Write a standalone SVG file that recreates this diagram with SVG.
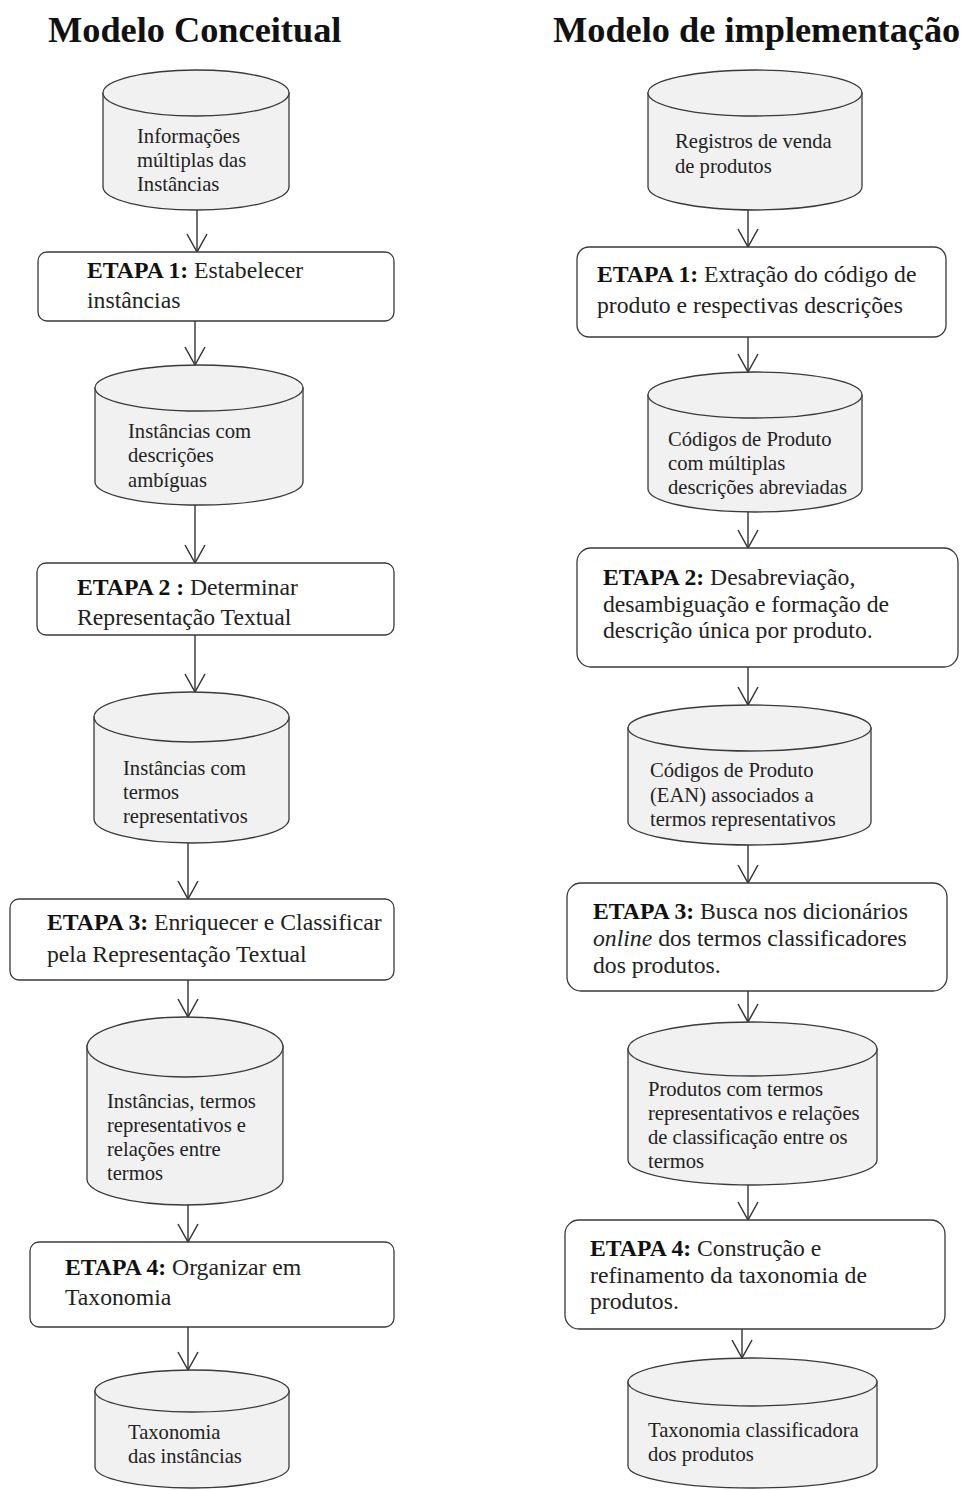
<svg xmlns="http://www.w3.org/2000/svg" width="964" height="1490" viewBox="0 0 964 1490">
  <style>
    .title { font-family: "Liberation Serif", "Times New Roman", serif; font-size: 36.3px; font-weight: bold; fill: #111; }
    .cyl { fill: #f1f1f1; stroke: #3a3a3a; stroke-width: 1.3; }
    .box { fill: #ffffff; stroke: #3a3a3a; stroke-width: 1.3; }
    .ct { font-family: "Liberation Serif", "Times New Roman", serif; font-size: 20.6px; fill: #222; }
    .bt { font-family: "Liberation Serif", "Times New Roman", serif; font-size: 23.7px; fill: #222; }
    .b { font-weight: bold; fill: #111; }
    .edge { stroke: #333; stroke-width: 1.4; fill: none; marker-end: url(#vhead); }
  </style>
  <defs>
    <marker id="vhead" markerUnits="userSpaceOnUse" viewBox="-20 -12 22 24" refX="0" refY="0" markerWidth="22" markerHeight="24" orient="auto">
      <path d="M-18,-10 L0,0 L-18,10" fill="none" stroke="#333" stroke-width="1.5"/>
    </marker>
  </defs>

  <rect width="964" height="1490" fill="#ffffff"/>

  <text class="title" x="48" y="42">Modelo Conceitual</text>
  <text class="title" x="553" y="42">Modelo de implementação</text>

  <!-- connectors -->
  <g id="connectors">
    <line class="edge" x1="197" y1="210" x2="197" y2="252"/>
    <line class="edge" x1="195" y1="321" x2="195" y2="365"/>
    <line class="edge" x1="195" y1="505" x2="195" y2="563"/>
    <line class="edge" x1="195" y1="635" x2="195" y2="692"/>
    <line class="edge" x1="188" y1="843" x2="188" y2="899"/>
    <line class="edge" x1="188" y1="980" x2="188" y2="1017"/>
    <line class="edge" x1="188" y1="1205" x2="188" y2="1242"/>
    <line class="edge" x1="188" y1="1327" x2="188" y2="1370"/>

    <line class="edge" x1="748" y1="210" x2="748" y2="247"/>
    <line class="edge" x1="748" y1="337" x2="748" y2="372"/>
    <line class="edge" x1="748" y1="512" x2="748" y2="548"/>
    <line class="edge" x1="748" y1="667" x2="748" y2="705"/>
    <line class="edge" x1="748" y1="845" x2="748" y2="883"/>
    <line class="edge" x1="748" y1="991" x2="748" y2="1022"/>
    <line class="edge" x1="748" y1="1185" x2="748" y2="1220"/>
    <line class="edge" x1="742" y1="1329" x2="742" y2="1358"/>
  </g>

  <!-- conceptual model column -->
  <g id="c-dados-iniciais">
    <path class="cyl" d="M103,93 V187 A93,23 0 0 0 289,187 V93 Z"/>
    <ellipse class="cyl" cx="196" cy="93" rx="93" ry="23"/>
    <text class="ct" x="137" y="143">Informações</text>
    <text class="ct" x="137" y="167">múltiplas das</text>
    <text class="ct" x="137" y="191">Instâncias</text>
  </g>
  <g id="c-etapa1">
    <rect class="box" x="38" y="252" width="356" height="69" rx="9"/>
    <text class="bt" x="87" y="278"><tspan class="b">ETAPA 1:</tspan> Estabelecer</text>
    <text class="bt" x="87" y="308">instâncias</text>
  </g>
  <g id="c-instancias-ambiguas">
    <path class="cyl" d="M95,388 V482 A104,23 0 0 0 303,482 V388 Z"/>
    <ellipse class="cyl" cx="199" cy="388" rx="104" ry="23"/>
    <text class="ct" x="128" y="438">Instâncias com</text>
    <text class="ct" x="128" y="462">descrições</text>
    <text class="ct" x="128" y="487">ambíguas</text>
  </g>
  <g id="c-etapa2">
    <rect class="box" x="37" y="563" width="357" height="72" rx="9"/>
    <text class="bt" x="77" y="595"><tspan class="b">ETAPA 2 :</tspan> Determinar</text>
    <text class="bt" x="77" y="625">Representação Textual</text>
  </g>
  <g id="c-instancias-termos">
    <path class="cyl" d="M94,717 V819 A97.5,24 0 0 0 289,819 V717 Z"/>
    <ellipse class="cyl" cx="191.5" cy="717" rx="97.5" ry="25"/>
    <text class="ct" x="123" y="775">Instâncias com</text>
    <text class="ct" x="123" y="799">termos</text>
    <text class="ct" x="123" y="823">representativos</text>
  </g>
  <g id="c-etapa3">
    <rect class="box" x="10" y="899" width="384" height="81" rx="9"/>
    <text class="bt" x="47" y="930"><tspan class="b">ETAPA 3:</tspan> Enriquecer e Classificar</text>
    <text class="bt" x="47" y="962">pela Representação Textual</text>
  </g>
  <g id="c-instancias-relacoes">
    <path class="cyl" d="M87,1046 V1179 A98,26 0 0 0 283,1179 V1046 Z"/>
    <ellipse class="cyl" cx="185" cy="1047" rx="98" ry="30"/>
    <text class="ct" x="107" y="1108">Instâncias, termos</text>
    <text class="ct" x="107" y="1132">representativos e</text>
    <text class="ct" x="107" y="1156">relações entre</text>
    <text class="ct" x="107" y="1180">termos</text>
  </g>
  <g id="c-etapa4">
    <rect class="box" x="30" y="1242" width="364" height="85" rx="9"/>
    <text class="bt" x="65" y="1275"><tspan class="b">ETAPA 4:</tspan> Organizar em</text>
    <text class="bt" x="65" y="1305">Taxonomia</text>
  </g>
  <g id="c-taxonomia">
    <path class="cyl" d="M95,1391 V1467 A97,21 0 0 0 289,1467 V1391 Z"/>
    <ellipse class="cyl" cx="192" cy="1391" rx="97" ry="21"/>
    <text class="ct" x="128" y="1439">Taxonomia</text>
    <text class="ct" x="128" y="1463">das instâncias</text>
  </g>

  <!-- implementation model column -->
  <g id="i-registros">
    <path class="cyl" d="M648,93 V187 A107,23 0 0 0 862,187 V93 Z"/>
    <ellipse class="cyl" cx="755" cy="93" rx="107" ry="23"/>
    <text class="ct" x="675" y="148">Registros de venda</text>
    <text class="ct" x="675" y="173">de produtos</text>
  </g>
  <g id="i-etapa1">
    <rect class="box" x="577" y="247" width="369" height="90" rx="12"/>
    <text class="bt" x="597" y="282"><tspan class="b">ETAPA 1:</tspan> Extração do código de</text>
    <text class="bt" x="597" y="313">produto e respectivas descrições</text>
  </g>
  <g id="i-codigos-abreviados">
    <path class="cyl" d="M648,395 V489 A107,23 0 0 0 862,489 V395 Z"/>
    <ellipse class="cyl" cx="755" cy="395" rx="107" ry="23"/>
    <text class="ct" x="668" y="446">Códigos de Produto</text>
    <text class="ct" x="668" y="470">com múltiplas</text>
    <text class="ct" x="668" y="494">descrições abreviadas</text>
  </g>
  <g id="i-etapa2">
    <rect class="box" x="577" y="548" width="381" height="119" rx="14"/>
    <text class="bt" x="603" y="585"><tspan class="b">ETAPA 2:</tspan> Desabreviação,</text>
    <text class="bt" x="603" y="612">desambiguação e formação de</text>
    <text class="bt" x="603" y="638">descrição única por produto.</text>
  </g>
  <g id="i-codigos-ean">
    <path class="cyl" d="M628,728 V822 A121.5,23 0 0 0 871,822 V728 Z"/>
    <ellipse class="cyl" cx="749.5" cy="728" rx="121.5" ry="23"/>
    <text class="ct" x="650" y="777">Códigos de Produto</text>
    <text class="ct" x="650" y="802">(EAN) associados a</text>
    <text class="ct" x="650" y="826">termos representativos</text>
  </g>
  <g id="i-etapa3">
    <rect class="box" x="567" y="883" width="380" height="108" rx="14"/>
    <text class="bt" x="593" y="919"><tspan class="b">ETAPA 3:</tspan> Busca nos dicionários</text>
    <text class="bt" x="593" y="946"><tspan font-style="italic">online</tspan> dos termos classificadores</text>
    <text class="bt" x="593" y="973">dos produtos.</text>
  </g>
  <g id="i-produtos-relacoes">
    <path class="cyl" d="M628,1049 V1160 A124.5,25 0 0 0 877,1160 V1049 Z"/>
    <ellipse class="cyl" cx="752.5" cy="1049" rx="124.5" ry="27"/>
    <text class="ct" x="648" y="1096">Produtos com termos</text>
    <text class="ct" x="648" y="1120">representativos e relações</text>
    <text class="ct" x="648" y="1144">de classificação entre os</text>
    <text class="ct" x="648" y="1168">termos</text>
  </g>
  <g id="i-etapa4">
    <rect class="box" x="565" y="1220" width="380" height="109" rx="14"/>
    <text class="bt" x="590" y="1256"><tspan class="b">ETAPA 4:</tspan> Construção e</text>
    <text class="bt" x="590" y="1283">refinamento da taxonomia de</text>
    <text class="bt" x="590" y="1309">produtos.</text>
  </g>
  <g id="i-taxonomia">
    <path class="cyl" d="M628,1382 V1466 A124.5,22 0 0 0 877,1466 V1382 Z"/>
    <ellipse class="cyl" cx="752.5" cy="1382" rx="124.5" ry="24"/>
    <text class="ct" x="648" y="1437">Taxonomia classificadora</text>
    <text class="ct" x="648" y="1461">dos produtos</text>
  </g>
</svg>
